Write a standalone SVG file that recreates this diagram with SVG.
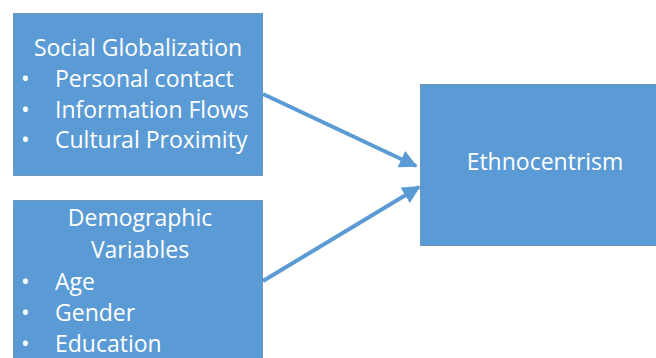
<svg xmlns="http://www.w3.org/2000/svg" width="656" height="358" viewBox="0 0 656 358">
<style>
.box{fill:#5B9BD5;stroke:#41719C;stroke-width:1;stroke-opacity:0.6}
.t{font-family:"Open Sans","Liberation Sans",sans-serif;font-size:23px;fill:#fff}
.c{text-anchor:middle}
.conn{stroke:#5B9BD5;stroke-width:4;fill:none}
</style>
<defs>
<marker id="ah" viewBox="0 0 10 10" refX="9" refY="5" markerWidth="4.5" markerHeight="4.5" orient="auto" markerUnits="strokeWidth">
<path d="M0,0 L10,5 L0,10 z" fill="#5B9BD5"/>
</marker>
</defs>
<rect width="656" height="358" fill="#fff"/>
<g id="connectors">
<line class="conn" x1="263" y1="94" x2="416" y2="166" marker-end="url(#ah)"/>
<line class="conn" x1="263" y1="281" x2="419" y2="187" marker-end="url(#ah)"/>
</g>
<g id="social">
<rect class="box" x="13.5" y="13.5" width="249" height="162"/>
<text class="t c" x="138" y="56">Social Globalization</text>
<text class="t" x="21" y="87">•</text><text class="t" x="55" y="87">Personal contact</text>
<text class="t" x="21" y="118">•</text><text class="t" x="55" y="118">Information Flows</text>
<text class="t" x="21" y="148">•</text><text class="t" x="55" y="148">Cultural Proximity</text>
</g>
<g id="demographic">
<rect class="box" x="13.5" y="200.5" width="249" height="170"/>
<text class="t c" x="140" y="226">Demographic</text>
<text class="t c" x="140" y="258">Variables</text>
<text class="t" x="21" y="290">•</text><text class="t" x="55" y="290">Age</text>
<text class="t" x="21" y="321">•</text><text class="t" x="55" y="321">Gender</text>
<text class="t" x="21" y="352">•</text><text class="t" x="55" y="352">Education</text>
</g>
<g id="ethno">
<rect class="box" x="420.5" y="84.5" width="250" height="161"/>
<text class="t c" x="545" y="170">Ethnocentrism</text>
</g>
</svg>
